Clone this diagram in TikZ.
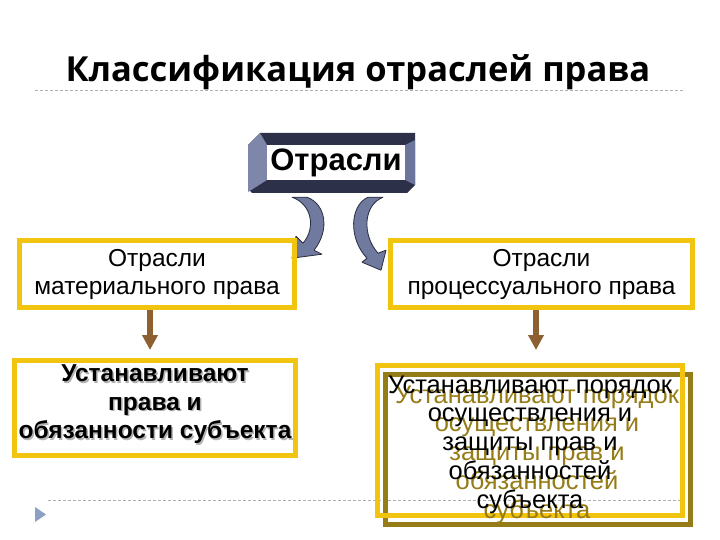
\documentclass[tikz,border=0pt]{standalone}
\usepackage{fontspec}
\setmainfont{Liberation Sans}
\newfontfamily\titlefont{Open Sans}
\usetikzlibrary{arrows.meta,positioning,calc}
\definecolor{frgold}{RGB}{241,196,15}
\definecolor{frolive}{RGB}{150,124,22}
\definecolor{arrbrown}{RGB}{140,96,48}
\definecolor{bendfill}{RGB}{112,122,158}
\definecolor{bendline}{RGB}{40,44,62}
\definecolor{bevdark}{RGB}{44,48,72}
\definecolor{bevlight}{RGB}{126,134,170}
\definecolor{bevmid}{RGB}{108,117,156}
\definecolor{sepgray}{RGB}{175,175,175}
\definecolor{bullet}{RGB}{140,160,195}

\begin{document}
\begin{tikzpicture}[
  x=1pt, y=-1pt,
  font=\fontsize{24.5}{28}\selectfont,
  frame/.style={draw=frgold, line width=5pt, align=center, inner sep=0pt},
  midbox/.style={frame, minimum height=67pt},
  btxt/.style={align=center, font=\bfseries\fontsize{24.5}{28.5}\selectfont},
  rtxt/.style={align=center, font=\fontsize{25.5}{28.8}\selectfont},
  brarr/.style={-{Triangle[width=15pt,length=15pt]}, line width=6.5pt, draw=arrbrown},
  curvearr/.style={fill=bendfill, draw=bendline, line width=0.8pt, line join=round},
  sep/.style={draw=sepgray, dash pattern=on 3pt off 2pt, line width=0.8pt}
]
  \useasboundingbox (0,0) rectangle (720,540);

  % title
  \node[anchor=base, font=\titlefont\bfseries\fontsize{34.5}{38}\selectfont] (title) at (358,82) {Классификация отраслей права};
  \draw[sep] (35,90) -- (685,90);

  % top box with bevel
  \fill[bevdark] (260,133) -- (415,133) -- (415,185) -- (407,193) -- (252,193) -- (248,189) -- (248,145) -- cycle;
  \fill[bevlight] (248,145) -- (260,133) -- (267,145) -- (267,180) -- (248,192) -- cycle;
  \fill[bevmid] (405,145) -- (415,140) -- (415,185) -- (405,180) -- cycle;
  \node[fill=white, inner sep=0pt, minimum width=138pt, minimum height=35pt,
        font=\bfseries\fontsize{31}{34}\selectfont] (top) at (336,162.5) {Отрасли};

  % curved arrows
  \begin{scope}[shift={(top.south)}]
    \draw[curvearr] (-44,17) .. controls (-24,24) and (-20,48) .. (-33,63) -- (-40,56) -- (-44,78)
      -- (-14,74) -- (-22,70) .. controls (-6,50) and (-10,24) .. (-29,17) -- cycle;
    \draw[curvearr] (47,17) .. controls (27,25) and (26,55) .. (42,73) -- (50,70) -- (45,90)
      -- (26,82) -- (31,78) .. controls (12,58) and (14,25) .. (32,17) -- cycle;
  \end{scope}

  % second level
  \node[midbox, minimum width=275pt] (lmid) at (157,274) {Отрасли\\материального права};
  \node[midbox, minimum width=302pt] (rmid) at (541.5,274) {Отрасли\\процессуального права};

  % bottom left
  \node[frame, minimum width=281pt, minimum height=95pt] (lbot) at (155,408) {};
  \node[btxt, text=black!30] (lbottxtsh) at ($(lbot)+(1.5,-2)$) {Устанавливают\\права и\\обязанности субъекта};
  \node[btxt] (lbottxt) at ($(lbot)+(0,-3.5)$) {Устанавливают\\права и\\обязанности субъекта};

  % bottom right
  \draw[sep] (48,500) -- (685,500);
  \fill[bullet] (35,507) -- (46,514.5) -- (35,522) -- cycle;
  \node[frame, draw=frolive, minimum width=305pt, minimum height=150pt] (rbotsh) at (538,449.5) {};
  \node[frame, minimum width=305pt, minimum height=150pt] (rbot) at (530,440.5) {};
  \node[rtxt, text=frolive] (rbottxtsh) at ($(rbot)+(7,14)$) {Устанавливают порядок\\осуществления и\\защиты прав и\\обязанностей\\субъекта};
  \node[rtxt] (rbottxt) at ($(rbot)+(0,4)$) {Устанавливают порядок\\осуществления и\\защиты прав и\\обязанностей\\субъекта};

  % arrows down
  \draw[brarr, shorten >=8pt] ([xshift=-7pt]lmid.south) -- ([xshift=-7pt]lmid.south |- lbot.north);
  \draw[brarr, shorten >=13pt] ([xshift=-5.5pt]rmid.south) -- ([xshift=-5.5pt]rmid.south |- rbot.north);
\end{tikzpicture}
\end{document}
